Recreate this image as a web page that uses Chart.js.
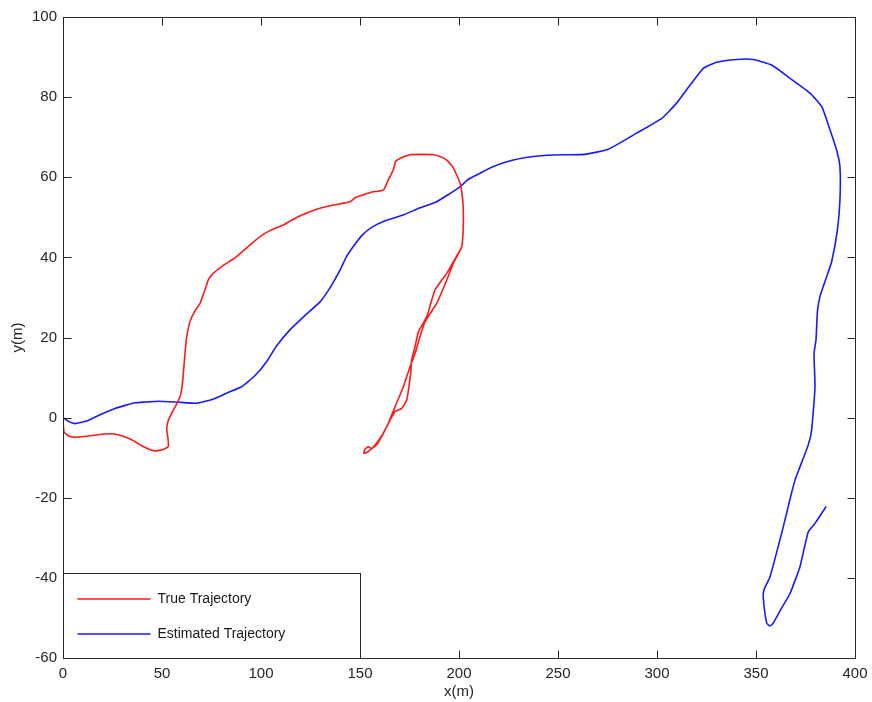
<!DOCTYPE html>
<html>
<head>
<meta charset="utf-8">
<title>Trajectory</title>
<script src="https://cdn.jsdelivr.net/npm/chart.js@4.4.1/dist/chart.umd.min.js"></script>
<style>
  html, body { margin: 0; padding: 0; background: #ffffff; }
  #wrap { width: 872px; height: 702px; position: relative; }
</style>
</head>
<body>
<div id="wrap"><canvas id="myChart" width="872" height="702"></canvas></div>
<script>
// Ticks of the axes
const xTickValues = [0, 50, 100, 150, 200, 250, 300, 350, 400];
const yTickValues = [-60, -40, -20, 0, 20, 40, 60, 80, 100];

// True trajectory (red)
const trueX = [0, 0.5, 3, 6, 13, 21, 26, 30, 35, 40, 44, 47, 51, 53.2, 53, 52.4, 53, 54.9, 57, 59.1,
  60.2, 60.8, 61.6, 62.5, 64.1, 66.5, 69.2, 71.7, 73.5, 75.9, 81, 87.7, 93, 99.5, 105, 111.3, 119, 128.1,
  136, 144.9, 148, 151.7, 156, 161.8, 164, 166.8, 168, 170.2, 175.3, 181, 186.9, 190.5, 193.8, 196.5, 198,
  200.5, 201.9, 202.2, 201.4, 197.1, 193.8, 188.7, 182.8, 180.3, 177.8, 175.3, 171.9, 167.7, 163.5, 158.4,
  154.2, 152.0, 152.5, 154.2, 155.9, 158.4, 161.8, 165.2, 167.7, 171.1, 173.6, 175.6, 176.1, 177.8, 179.5,
  183.7, 187.9, 193.8, 200.5];
const trueY = [0, -3.5, -4.6, -4.9, -4.6, -4.1, -4.1, -4.6, -5.6, -7.1, -8.0, -8.3, -7.9, -7.2, -5, -3.1, -1, 1.1, 3, 5.2,
  8, 11.1, 16.0, 20.2, 23.9, 26.5, 28.5, 31.9, 34.5, 36.0, 38, 40.2, 42.5, 45.2, 46.8, 48.1, 50.2, 52.0,
  53, 53.9, 55, 55.6, 56.3, 56.8, 59, 61.8, 64, 64.7, 65.6, 65.7, 65.6, 65.2, 64.3, 62.8, 61.5,
  58.5, 54.3, 48.6, 42.7, 38.5, 34.3, 28.5, 23.9, 20.2, 16.0, 12.7, 7.7, 2.7, -2.3, -6.4,
  -8.5, -8.9, -7.9, -7.3, -7.7, -6.8, -3.9, -0.6, 1.5, 2.3, 4.4, 11.1, 14.4, 17.7, 21.4,
  25.2, 31.9, 36.0, 41.8];

// Estimated trajectory (blue)
const estX = [0, 3, 6.1, 9, 12.8, 19, 26.3, 31, 36.4, 42, 48.1, 57, 67.5, 72, 76.8, 83, 90.2, 97, 102.9, 108,
  114.6, 122, 129.8, 135, 139.9, 143, 146.6, 151, 155.9, 163, 171.9, 180, 188.7, 195, 200.5, 204.7, 210.6,
  216.5, 227.4, 240.1, 252, 263.6, 275.4, 289.7, 302.4, 309.9, 316.7, 323.4, 330.1, 340.2, 348.6, 357.9,
  367.2, 377.3, 383.2, 387.4, 390.7, 392.4, 392.4, 391.1, 388.2, 385.7, 382.3, 381.0, 380.3, 379.3, 379.8,
  378.1, 376.4, 372.2, 369.7, 367.5, 363.8, 357.1, 354.0, 353.7, 355.4, 357.1, 358.7, 363, 367.2, 372.2,
  376.4, 379.8, 385.4];
const estY = [0, -1, -1.5, -1.2, -0.7, 0.8, 2.3, 3, 3.7, 3.9, 4.1, 3.9, 3.6, 4.1, 4.8, 6.2, 7.7, 10.5, 14.0, 18,
  21.9, 25.4, 28.9, 32.5, 36.8, 40, 42.7, 45.5, 47.5, 49.2, 50.6, 52.3, 53.9, 55.8, 57.6, 59.5, 61.0,
  62.5, 64.3, 65.3, 65.6, 65.7, 67.0, 71.0, 74.7, 78.5, 83.0, 87.2, 88.7, 89.4, 89.4, 88.0,
  84.7, 81.0, 77.6, 71.8, 66.8, 62.6, 54.3, 46.8, 38.9, 35.2, 30.2, 26.4, 19.4, 16.0, 7.7,
  -3.1, -6.8, -12.3, -15.6, -19.7, -27.2, -39.7, -43.0, -45.1, -51.3, -52.0, -51.3, -47.5, -43.9, -37.2,
  -28.5, -26.4, -22.2];

const seriesNames = ['True Trajectory', 'Estimated Trajectory'];
const seriesColors = ['#ff1a1a', '#1a1aff'];

// Junta x e y em pontos
const toPoints = (xs, ys) => xs.map((v, i) => ({ x: v, y: ys[i] }));

const axisColor = '#262626';

// Caixa ao redor do gráfico, ticks para dentro e legenda no canto inferior esquerdo
const matlabBox = {
  id: 'matlabBox',
  afterDatasetsDraw(chart) {
    const { ctx, chartArea: a, scales } = chart;
    ctx.save();
    ctx.strokeStyle = axisColor;
    ctx.lineWidth = 1;
    const line = (x1, y1, x2, y2) => {
      ctx.beginPath(); ctx.moveTo(x1, y1); ctx.lineTo(x2, y2); ctx.stroke();
    };
    const L = Math.round(a.left) + 0.5, R = Math.round(a.right) + 0.5;
    const T = Math.round(a.top) + 0.5, B = Math.round(a.bottom) + 0.5;
    xTickValues.forEach(v => {
      const px = Math.round(scales.x.getPixelForValue(v)) + 0.5;
      line(px, B, px, B - 8);
      line(px, T, px, T + 8);
    });
    yTickValues.forEach(v => {
      const py = Math.round(scales.y.getPixelForValue(v)) + 0.5;
      line(L, py, L + 8, py);
      line(R, py, R - 8, py);
    });
    ctx.strokeRect(L, T, R - L, B - T);

    // legenda
    const lx = L, ly = B - 85, lw = 297, lh = 85;
    ctx.fillStyle = '#ffffff';
    ctx.fillRect(lx, ly, lw, lh);
    ctx.strokeRect(lx, ly, lw, lh);
    ctx.font = '14px "Liberation Sans", Arial, sans-serif';
    ctx.textBaseline = 'middle';
    seriesNames.forEach((name, i) => {
      const yy = ly + 25.5 + i * 35;
      ctx.strokeStyle = seriesColors[i];
      ctx.lineWidth = 1.5;
      line(lx + 14, yy, lx + 87, yy);
      ctx.fillStyle = '#1a1a1a';
      ctx.fillText(name, lx + 94, yy);
    });
    ctx.restore();
  }
};

Chart.defaults.font.family = '"Liberation Sans", Arial, sans-serif';
Chart.defaults.color = axisColor;

const ctx = document.getElementById('myChart').getContext('2d');
window.myChart = new Chart(ctx, {
  type: 'scatter',
  data: {
    datasets: [
      { label: seriesNames[0], data: toPoints(trueX, trueY), borderColor: seriesColors[0] },
      { label: seriesNames[1], data: toPoints(estX, estY), borderColor: seriesColors[1] }
    ].map(d => Object.assign(d, {
      showLine: true, pointRadius: 0, borderWidth: 1.6, tension: 0.15,
      borderJoinStyle: 'round', fill: false
    }))
  },
  options: {
    responsive: false,
    animation: false,
    layout: { padding: { left: 0, right: 17, top: 17, bottom: 0 } },
    plugins: { legend: { display: false }, tooltip: { enabled: false } },
    scales: {
      x: {
        type: 'linear', min: 0, max: 400,
        afterBuildTicks: s => { s.ticks = xTickValues.map(v => ({ value: v })); },
        afterFit: s => { s.height = 44; s.paddingLeft = 0; s.paddingRight = 0; },
        grid: { display: false, drawTicks: false },
        border: { display: false },
        ticks: { padding: 7, font: { size: 15 }, maxRotation: 0, autoSkip: false },
        title: { display: true, text: 'x(m)', font: { size: 15 }, padding: { top: 0, bottom: 1 } }
      },
      y: {
        type: 'linear', min: -60, max: 100,
        afterBuildTicks: s => { s.ticks = yTickValues.map(v => ({ value: v })); },
        afterFit: s => { s.width = 63; s.paddingTop = 0; s.paddingBottom = 0; },
        grid: { display: false, drawTicks: false },
        border: { display: false },
        ticks: { padding: 6, font: { size: 15 }, autoSkip: false },
        title: { display: true, text: 'y(m)', font: { size: 15 }, padding: { top: 9, bottom: 0 } }
      }
    }
  },
  plugins: [matlabBox]
});
</script>
</body>
</html>
